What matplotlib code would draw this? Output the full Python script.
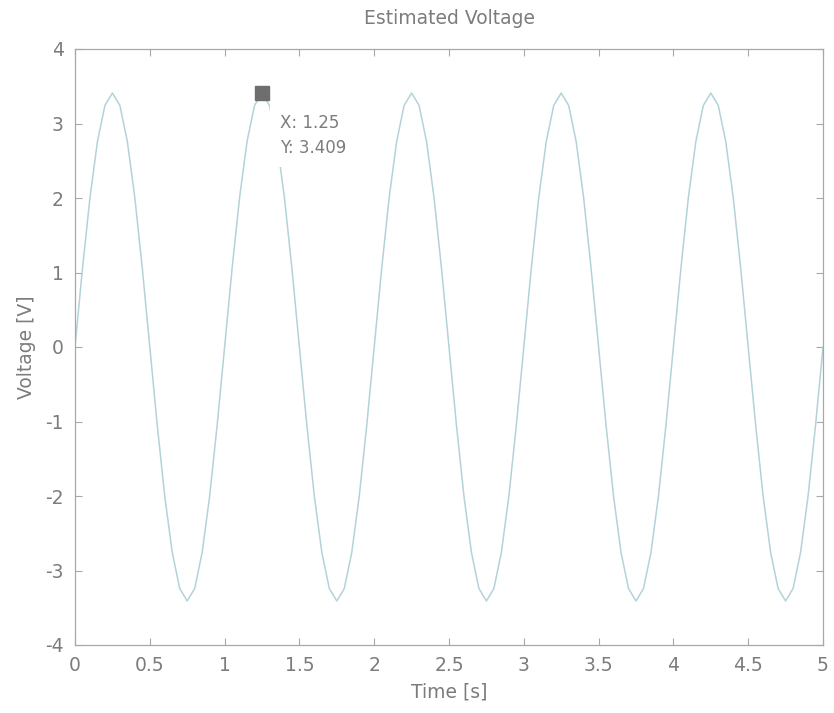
import numpy as np
import matplotlib
matplotlib.use("Agg")
import matplotlib.pyplot as plt

plt.rcParams['font.family'] = ['DejaVu Sans']
plt.rcParams['axes.unicode_minus'] = False

# sample times (0.05 s step) and estimated voltage
time_s = [round(0.05 * k, 2) for k in range(101)]
voltage = [
    0.000, 1.053, 2.004, 2.758, 3.242, 3.409, 3.242, 2.758, 2.004, 1.053,
    0.000, -1.053, -2.004, -2.758, -3.242, -3.409, -3.242, -2.758, -2.004, -1.053,
    0.000, 1.053, 2.004, 2.758, 3.242, 3.409, 3.242, 2.758, 2.004, 1.053,
    0.000, -1.053, -2.004, -2.758, -3.242, -3.409, -3.242, -2.758, -2.004, -1.053,
    0.000, 1.053, 2.004, 2.758, 3.242, 3.409, 3.242, 2.758, 2.004, 1.053,
    0.000, -1.053, -2.004, -2.758, -3.242, -3.409, -3.242, -2.758, -2.004, -1.053,
    0.000, 1.053, 2.004, 2.758, 3.242, 3.409, 3.242, 2.758, 2.004, 1.053,
    0.000, -1.053, -2.004, -2.758, -3.242, -3.409, -3.242, -2.758, -2.004, -1.053,
    0.000, 1.053, 2.004, 2.758, 3.242, 3.409, 3.242, 2.758, 2.004, 1.053,
    0.000, -1.053, -2.004, -2.758, -3.242, -3.409, -3.242, -2.758, -2.004, -1.053,
    0.000,
]
xticks = [0, 0.5, 1, 1.5, 2, 2.5, 3, 3.5, 4, 4.5, 5]
xticklabels = ['0', '0.5', '1', '1.5', '2', '2.5', '3', '3.5', '4', '4.5', '5']
yticks = [-4, -3, -2, -1, 0, 1, 2, 3, 4]
yticklabels = ['-4', '-3', '-2', '-1', '0', '1', '2', '3', '4']
tip_x, tip_y = 1.25, 3.409

text_col = '#7c7c7c'
axis_col = '#a8a8a8'
line_col = '#b4d2da'

fig = plt.figure(figsize=(8.34, 7.13), dpi=100)
ax = fig.add_axes([75/834, 1 - 645/713, (823-75)/834, (645-49)/713])

ax.plot(time_s, voltage, color=line_col, lw=1.1)
ax.set_xlim(0, 5)
ax.set_ylim(-4, 4)
ax.set_xticks(xticks)
ax.set_xticklabels(xticklabels)
ax.set_yticks(yticks)
ax.set_yticklabels(yticklabels)
ax.tick_params(direction='in', top=True, right=True, length=5, width=0.8,
               colors=axis_col, labelcolor=text_col, labelsize=13.5)
ax.tick_params(axis='x', pad=8)
ax.tick_params(axis='y', pad=8)
for s in ax.spines.values():
    s.set_color(axis_col)
    s.set_linewidth(0.9)

ax.set_title('Estimated Voltage', color=text_col, fontsize=13.5, pad=18)
ax.set_xlabel('Time [s]', color=text_col, fontsize=13.5, labelpad=5)
ax.set_ylabel('Voltage [V]', color=text_col, fontsize=13.5, labelpad=7)

# data tip
ax.annotate('X: 1.25\nY: 3.409', xy=(tip_x, tip_y), xytext=(13, -15),
            textcoords='offset points', ha='left', va='top',
            fontsize=12, color=text_col, linespacing=1.5,
            bbox=dict(boxstyle='square,pad=0.6', fc='white', ec='none'),
            zorder=5)
ax.plot([tip_x], [tip_y], marker='s', ms=10, color='#6e6e6e', zorder=6,
        clip_on=False)

fig.savefig('out.png', dpi=100, facecolor='white')
